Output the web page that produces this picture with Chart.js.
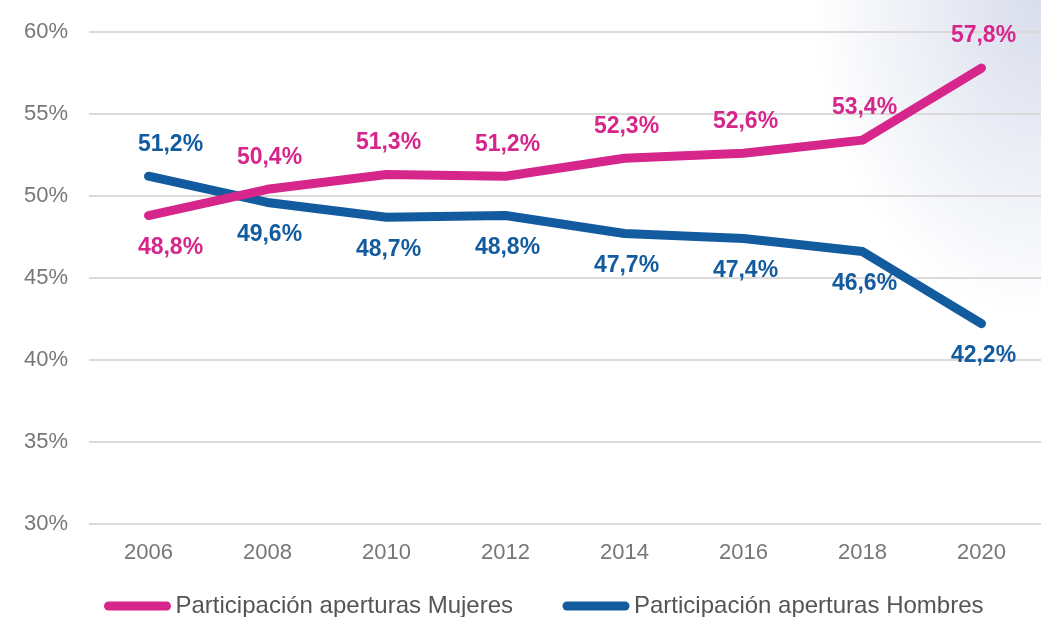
<!DOCTYPE html>
<html>
<head>
<meta charset="utf-8">
<script src="https://cdn.jsdelivr.net/npm/chart.js@4/dist/chart.umd.min.js"></script>
<style>
  html, body { margin: 0; padding: 0; }
  body {
    width: 1041px; height: 617px; overflow: hidden;
    background:
      radial-gradient(ellipse 230px 320px at 100% 0%, rgba(200, 207, 228, 0.7), rgba(255, 255, 255, 0) 100%),
      #ffffff;
  }
  #wrap { position: relative; width: 1041px; height: 617px; }
</style>
</head>
<body>
<div id="wrap"><canvas id="chart"></canvas></div>
<script>
/* =========================
   DATA
========================= */
const years = ['2006', '2008', '2010', '2012', '2014', '2016', '2018', '2020'];
const mujeres = [48.8, 50.4, 51.3, 51.2, 52.3, 52.6, 53.4, 57.8];
const hombres = [51.2, 49.6, 48.7, 48.8, 47.7, 47.4, 46.6, 42.2];
const yTicks = [30, 35, 40, 45, 50, 55, 60];

const PINK = '#d6258b';
const BLUE = '#135b9f';
const FONT = '"Liberation Sans", Arial, sans-serif';

/* =========================
   VALUE LABELS (placed away from the other line)
========================= */
const valueLabels = {
  id: 'valueLabels',
  afterDatasetsDraw(chart) {
    const ctx = chart.ctx;
    ctx.save();
    ctx.font = 'bold 23px ' + FONT;
    ctx.textAlign = 'center';
    ctx.textBaseline = 'middle';
    chart.data.datasets.forEach((ds, di) => {
      const other = chart.data.datasets[1 - di].data;
      const meta = chart.getDatasetMeta(di);
      meta.data.forEach((pt, i) => {
        const above = ds.data[i] > other[i];
        const y = pt.y + (above ? -32 : 32);
        const x = i === 0 ? pt.x + 22 : pt.x + 2;
        ctx.fillStyle = ds.borderColor;
        ctx.fillText(ds.data[i].toFixed(1).replace('.', ',') + '%', x, y);
      });
    });
    ctx.restore();
  }
};

/* =========================
   BOTTOM LEGEND
========================= */
const bottomLegend = {
  id: 'bottomLegend',
  afterDraw(chart) {
    const ctx = chart.ctx;
    const y = 606;
    const swatch = 66, gap = 5, itemGap = 50;
    ctx.save();
    ctx.font = '24px ' + FONT;
    ctx.textBaseline = 'middle';
    const items = chart.data.datasets.map(ds => ({
      text: ds.label, color: ds.borderColor, w: ctx.measureText(ds.label).width
    }));
    let total = 0;
    items.forEach((it, i) => { total += swatch + gap + it.w + (i ? itemGap : 0); });
    let x = 544 - total / 2;
    items.forEach(it => {
      ctx.strokeStyle = it.color;
      ctx.lineWidth = 9;
      ctx.lineCap = 'round';
      ctx.beginPath();
      ctx.moveTo(x + 4, y);
      ctx.lineTo(x + swatch - 4, y);
      ctx.stroke();
      ctx.fillStyle = '#555555';
      ctx.fillText(it.text, x + swatch + gap, y);
      x += swatch + gap + it.w + itemGap;
    });
    ctx.restore();
  }
};

/* =========================
   CHART
========================= */
const ctx = document.getElementById('chart').getContext('2d');

new Chart(ctx, {
  type: 'line',
  data: {
    labels: years,
    datasets: [
      {
        label: 'Participación aperturas Mujeres',
        data: mujeres,
        borderColor: PINK,
        backgroundColor: PINK,
        borderWidth: 9,
        borderCapStyle: 'round',
        borderJoinStyle: 'round',
        pointRadius: 0,
        tension: 0
      },
      {
        label: 'Participación aperturas Hombres',
        data: hombres,
        borderColor: BLUE,
        backgroundColor: BLUE,
        borderWidth: 9,
        borderCapStyle: 'round',
        borderJoinStyle: 'round',
        pointRadius: 0,
        tension: 0
      }
    ]
  },
  options: {
    responsive: true,
    maintainAspectRatio: false,
    animation: false,
    layout: { padding: { top: 30, right: 0, bottom: 43, left: 0 } },
    plugins: {
      legend: { display: false },
      tooltip: { enabled: false }
    },
    scales: {
      x: {
        offset: true,
        grid: { display: false },
        border: { display: false },
        ticks: {
          color: '#777777',
          font: { family: FONT, size: 22 },
          padding: 8,
          maxRotation: 0
        }
      },
      y: {
        min: yTicks[0],
        max: yTicks[yTicks.length - 1],
        afterFit(scale) { scale.width = 89; },
        afterBuildTicks(scale) { scale.ticks = yTicks.map(v => ({ value: v })); },
        grid: { color: '#dadada', lineWidth: 2, drawTicks: false },
        border: { display: false },
        ticks: {
          color: '#777777',
          font: { family: FONT, size: 22, lineHeight: 1 },
          padding: 21,
          callback: v => v + '%'
        }
      }
    }
  },
  plugins: [valueLabels, bottomLegend]
});
</script>
</body>
</html>
